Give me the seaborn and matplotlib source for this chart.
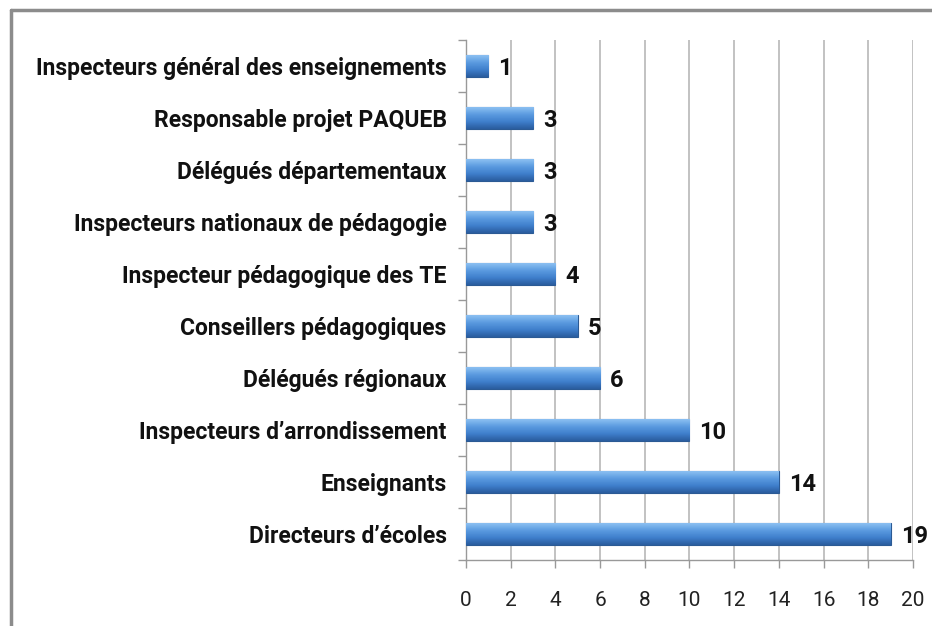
import numpy as np
import pandas as pd
import seaborn as sns
import matplotlib.pyplot as plt
from matplotlib.colors import LinearSegmentedColormap
from matplotlib.ticker import FixedLocator

# data
categories = [
    "Inspecteurs général des enseignements",
    "Responsable projet PAQUEB",
    "Délégués départementaux",
    "Inspecteurs nationaux de pédagogie",
    "Inspecteur pédagogique des TE",
    "Conseillers pédagogiques",
    "Délégués régionaux",
    "Inspecteurs d\u2019arrondissement",
    "Enseignants",
    "Directeurs d\u2019écoles",
]
counts = [1, 3, 3, 3, 4, 5, 6, 10, 14, 19]
xticks = list(range(0, 21, 2))

df = pd.DataFrame({"Categorie": categories, "Effectif": counts})

sns.set_theme(style="white")
plt.rcParams["font.family"] = ["Roboto", "DejaVu Sans"]

fig = plt.figure(figsize=(9.32, 6.26), dpi=100)
ax = fig.add_axes([0.5, 0.1054, 0.4796, 0.8306])

sns.barplot(data=df, x="Effectif", y="Categorie", orient="h",
            color="#4a86d0", width=0.42, ax=ax, zorder=3)

# gradient fill for the bars (light top -> dark bottom)
grad = LinearSegmentedColormap.from_list(
    "bar", ["#8cc0f2", "#5b9be0", "#3f7fcc", "#2a5c9e"])
g = np.linspace(0, 1, 64).reshape(-1, 1)
for p in ax.patches:
    x0, y0 = p.get_x(), p.get_y()
    w, h = p.get_width(), p.get_height()
    p.set_edgecolor("#2b5a94")
    p.set_linewidth(0.8)
    im = ax.imshow(g, cmap=grad, aspect="auto", zorder=3.5,
                   extent=[x0, x0 + w, y0 + h, y0], interpolation="bicubic")
    im.set_clip_path(p)

# value labels
for i, v in enumerate(counts):
    ax.text(v + 0.45, i + 0.05, str(v), va="center", ha="left",
            fontsize=17, fontweight="bold", color="#111111", zorder=5)

ax.set_xlim(0, 20)
ax.set_ylim(len(categories) - 0.5, -0.5)
ax.set_xticks(xticks)
ax.set_xticklabels([str(t) for t in xticks], fontsize=15, color="#222222")
ax.set_xlabel("")
ax.set_ylabel("")
ax.tick_params(axis="y", length=0, labelsize=16.5, pad=14)
for lab in ax.get_yticklabels():
    lab.set_fontweight("bold")
    lab.set_color("#111111")
ax.yaxis.set_minor_locator(FixedLocator(np.arange(-0.5, len(categories), 1)))
ax.tick_params(axis="y", which="minor", left=True, length=6, color="#999999", width=1)
ax.tick_params(axis="x", bottom=True, length=6, color="#999999", width=1, pad=16)

ax.grid(axis="x", color="#b8b8b8", linewidth=1.2, zorder=0)
ax.set_axisbelow(True)
for side in ["top", "right"]:
    ax.spines[side].set_visible(False)
for side in ["left", "bottom"]:
    ax.spines[side].set_color("#999999")
    ax.spines[side].set_linewidth(1)

# outer frame of the chart (top and left edges)
fig.add_artist(plt.Line2D([11 / 932, 1], [1 - 10 / 626, 1 - 10 / 626],
                          color="#8c8c8c", linewidth=2.5, transform=fig.transFigure))
fig.add_artist(plt.Line2D([11 / 932, 11 / 932], [0, 1 - 10 / 626],
                          color="#8c8c8c", linewidth=2.5, transform=fig.transFigure))

fig.savefig("out.png", dpi=100)
